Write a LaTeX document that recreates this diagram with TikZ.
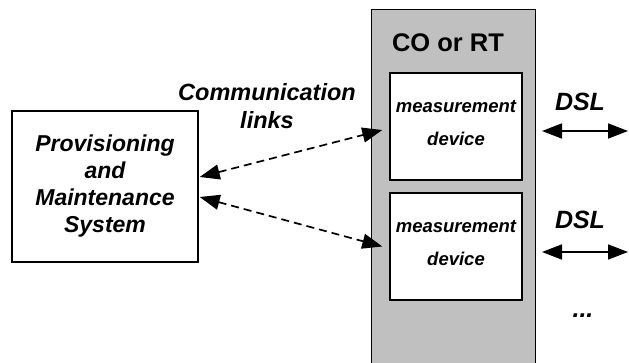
\documentclass[tikz,border=0pt]{standalone}
\usepackage{fontspec}
\setmainfont{Liberation Sans}
\usetikzlibrary{arrows.meta}
\definecolor{cogray}{RGB}{192,192,192}
\begin{document}
\begin{tikzpicture}[x=1pt,y=-1pt]

        \useasboundingbox (0,0) rectangle (629,363);
        \clip (0,0) rectangle (629,363);

        \node[draw,fill=cogray,line width=1.4pt,inner sep=0pt,anchor=north west,
              minimum width=164pt,minimum height=362pt] (co) at (371,9) {};

        \begin{scope}[every node/.style={draw,fill=white,line width=1.4pt,inner sep=0pt,align=center,
                      font=\fontsize{18.5}{33}\selectfont\bfseries\itshape,
                      minimum width=132pt,minimum height=107pt}]
          \node (m1) at (456,126.5) {measurement\\device\rule[-7pt]{0pt}{0pt}};
          \node (m2) at (456,246.5) {measurement\\device\rule[-7pt]{0pt}{0pt}};
        \end{scope}

        \node[draw,line width=1.4pt,inner sep=0pt,align=center,
              font=\fontsize{23}{27}\selectfont\bfseries\itshape,
              minimum width=186pt,minimum height=151pt] (pms) at (105,186.5)
              {Provisioning\\and\\Maintenance\\System};

        \begin{scope}[every node/.style={inner sep=0pt,font=\fontsize{25.5}{30}\selectfont\bfseries}]
          \node (cort) at (448,43)  {CO or RT};
          \node[font=\fontsize{25}{30}\selectfont\bfseries\itshape] (dsl1) at (580,102) {DSL};
          \node[font=\fontsize{25}{30}\selectfont\bfseries\itshape] (dsl2) at (580,220) {DSL};
          \node[font=\fontsize{25}{30}\selectfont\bfseries\itshape] (more) at (583,316) {...};
          \node[align=center,font=\fontsize{23.5}{28}\selectfont\bfseries\itshape] (comm) at (267,106)
               {Communication\\links};
        \end{scope}

        \coordinate (d1a) at (542,131);
        \coordinate (d1b) at (628,131);
        \coordinate (d2a) at (542,252);
        \coordinate (d2b) at (628,252);

        \begin{scope}[every edge/.style={draw,line width=1.7pt,
                      {Triangle[length=20pt,width=15pt]}-{Triangle[length=20pt,width=15pt]}}]
          \path ([yshift=9.5pt,xshift=1pt]pms.east) edge[dash pattern=on 8pt off 5pt] ([yshift=-3.5pt,xshift=-7pt]m1.west);
          \path ([yshift=-10.5pt,xshift=1pt]pms.east) edge[dash pattern=on 8pt off 5pt] ([xshift=-7pt]m2.west);
          \path (d1a) edge (d1b);
          \path (d2a) edge (d2b);
        \end{scope}

      \end{tikzpicture}
\end{document}
